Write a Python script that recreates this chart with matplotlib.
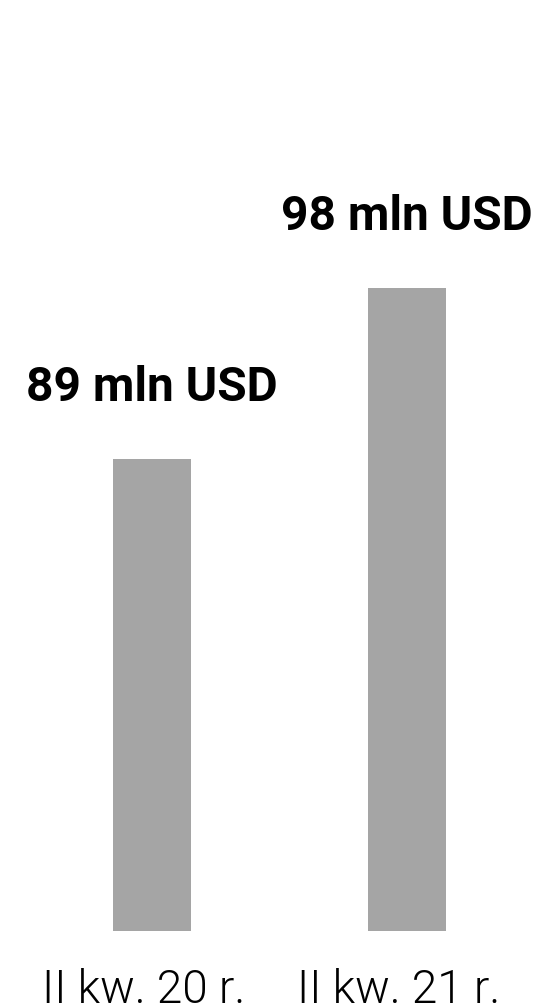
import matplotlib
matplotlib.use("Agg")
import matplotlib.pyplot as plt
from matplotlib.transforms import ScaledTranslation

categories = ["II kw. 20 r.", "II kw. 21 r."]
values = [89, 98]
value_labels = ["89 mln USD", "98 mln USD"]

W, H, DPI = 539, 1005, 100
fig = plt.figure(figsize=(W / DPI, H / DPI), dpi=DPI)
fig.patch.set_facecolor("white")

# axes run from the bar baseline up to the top edge of the figure
base_px = 931
ax = fig.add_axes([0, (H - base_px) / H, 1, base_px / H])

px_per_unit = 18.9
y0 = 64.0
ax.set_ylim(y0, y0 + base_px / px_per_unit)

spacing_px = 255
c1_px = 152
ax.set_xlim(-c1_px / spacing_px, (W - c1_px) / spacing_px)

x = list(range(len(categories)))
bars = ax.bar(x, values, width=78 / spacing_px, bottom=0, color="#a5a5a5")

# value labels, baseline a fixed distance above each bar
above = ScaledTranslation(0, 58 / DPI, fig.dpi_scale_trans)
for xi, v, lab in zip(x, values, value_labels):
    ax.text(xi, v, lab, transform=ax.transData + above,
            ha="center", va="baseline", fontsize=34.5,
            fontfamily="Roboto", fontweight="bold", color="black")

ax.set_axis_off()

# category labels below the bars, baseline near the bottom edge
shift = ScaledTranslation(-8 / DPI, 0, fig.dpi_scale_trans)
label_y = y0 - 72 / px_per_unit
for xi, cat in zip(x, categories):
    ax.text(xi, label_y, cat, transform=ax.transData + shift,
            ha="center", va="baseline", fontsize=33,
            fontfamily="Roboto", fontweight=300, color="black",
            clip_on=False)

fig.savefig("out.png", dpi=DPI, facecolor="white")
